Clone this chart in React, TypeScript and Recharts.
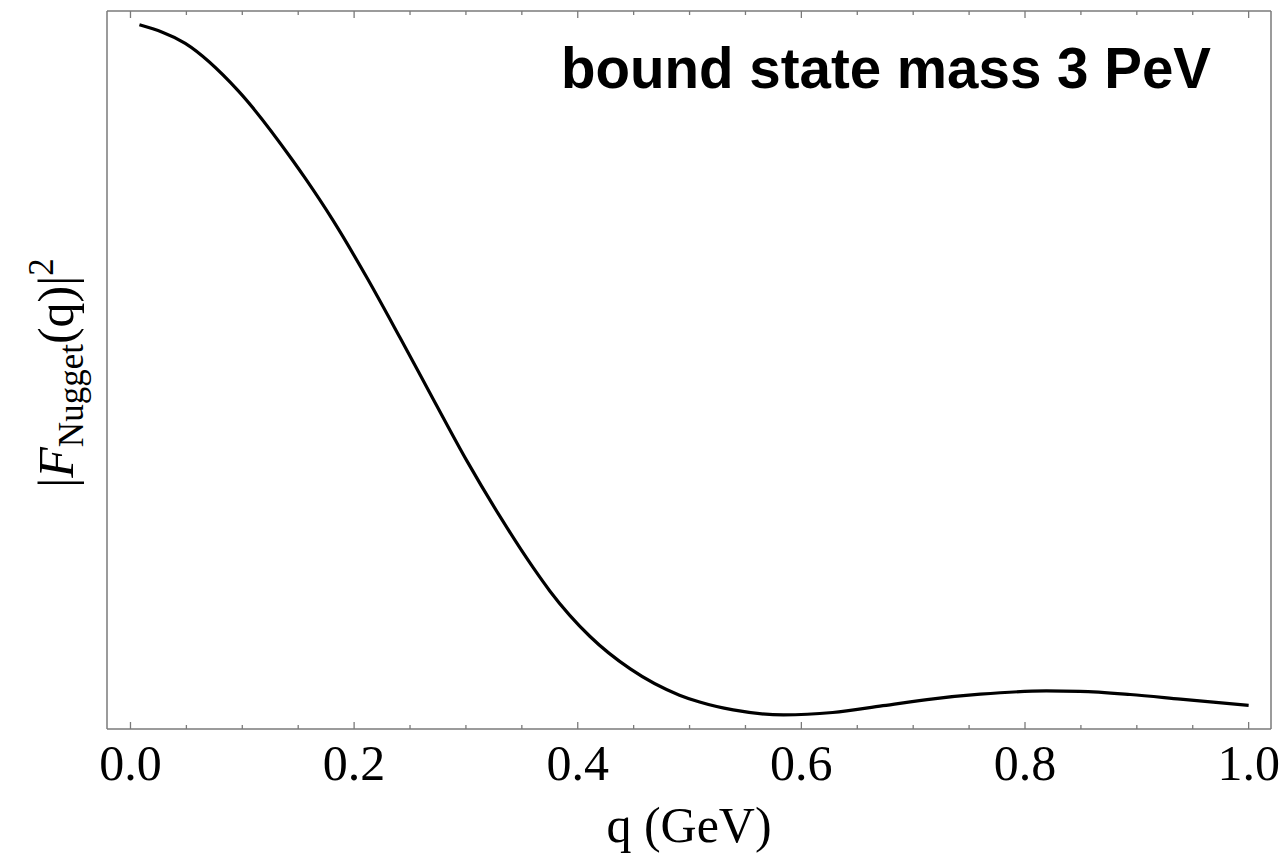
import { LineChart, Line, XAxis, YAxis } from 'recharts';

// momentum transfer q (GeV)
const qValues = [
  0.008, 0.049, 0.096, 0.144, 0.157, 0.181, 0.211, 0.241, 0.271, 0.301,
  0.330, 0.360, 0.375, 0.411, 0.447, 0.491, 0.509, 0.539, 0.584, 0.628,
  0.673, 0.718, 0.760, 0.819, 0.849, 0.894, 0.939, 1.0,
];

// |F_Nugget(q)|^2, normalised to 1 at the start of the curve
const formFactor = [
  1.0, 0.973, 0.905, 0.806, 0.776, 0.717, 0.635, 0.547, 0.457, 0.368,
  0.289, 0.214, 0.180, 0.114, 0.067, 0.029, 0.019, 0.0076, 0.0004, 0.0039,
  0.0138, 0.0237, 0.0304, 0.0351, 0.0345, 0.030, 0.0233, 0.0141,
];

const xTicks = [
  0, 0.05, 0.1, 0.15, 0.2, 0.25, 0.3, 0.35, 0.4, 0.45, 0.5,
  0.55, 0.6, 0.65, 0.7, 0.75, 0.8, 0.85, 0.9, 0.95, 1.0,
];

const data = qValues.map((q, i) => ({ q, f: formFactor[i] }));

const FRAME = '#7a7a7a';
const SERIF = '"Liberation Serif", "Times New Roman", serif';

const isMajor = (v: number) => Math.abs(v * 5 - Math.round(v * 5)) < 1e-6;

const BottomTick = ({ x, y, payload }: any) => {
  const major = isMajor(payload.value);
  return (
    <g>
      <line x1={x} x2={x} y1={y} y2={y - (major ? 7 : 4)} stroke={FRAME} strokeWidth={1.3} />
      {major && (
        <text x={x} y={y + 51} textAnchor="middle" fontFamily={SERIF} fontSize={50} fill="#000">
          {payload.value.toFixed(1)}
        </text>
      )}
    </g>
  );
};

const TopTick = ({ x, y, payload }: any) => {
  const major = isMajor(payload.value);
  return <line x1={x} x2={x} y1={y} y2={y + (major ? 7 : 4)} stroke={FRAME} strokeWidth={1.3} />;
};

export default function App() {
  return (
    <div style={{ position: 'absolute', left: 0, top: 0, background: '#fff' }}>
      <LineChart width={1283} height={859} data={data} margin={{ top: 10, right: 11, bottom: 129, left: 106 }}>
        <XAxis
          dataKey="q"
          type="number"
          domain={[-0.021, 1.02]}
          ticks={xTicks}
          tick={<BottomTick />}
          tickLine={false}
          tickSize={0}
          tickMargin={0}
          height={1}
          axisLine={{ stroke: FRAME, strokeWidth: 1.5 }}
          interval={0}
        />
        <XAxis
          xAxisId="top"
          orientation="top"
          dataKey="q"
          type="number"
          domain={[-0.021, 1.02]}
          ticks={xTicks}
          tick={<TopTick />}
          tickLine={false}
          tickSize={0}
          tickMargin={0}
          height={1}
          axisLine={{ stroke: FRAME, strokeWidth: 1.5 }}
          interval={0}
        />
        <YAxis
          type="number"
          domain={[-0.02, 1.02]}
          width={1}
          tick={false}
          tickLine={false}
          axisLine={{ stroke: FRAME, strokeWidth: 1.5 }}
        />
        <YAxis
          yAxisId="right"
          orientation="right"
          type="number"
          domain={[-0.02, 1.02]}
          width={1}
          tick={false}
          tickLine={false}
          axisLine={{ stroke: FRAME, strokeWidth: 1.5 }}
        />
        <Line
          type="monotone"
          dataKey="f"
          stroke="#000"
          strokeWidth={3.2}
          dot={false}
          activeDot={false}
          isAnimationActive={false}
        />
        <text
          x={1211}
          y={88}
          textAnchor="end"
          fontFamily='"Liberation Sans", Arial, sans-serif'
          fontWeight="bold"
          fontSize={56.5}
          fill="#000"
        >
          bound state mass 3 PeV
        </text>
        <text x={689} y={842} textAnchor="middle" fontFamily={SERIF} fontSize={50} fill="#000">
          q (GeV)
        </text>
        <text
          x={0}
          y={0}
          transform="translate(73, 373) rotate(-90)"
          textAnchor="middle"
          fontFamily={SERIF}
          fontSize={50}
          fill="#000"
        >
          <tspan>|</tspan>
          <tspan fontStyle="italic">F</tspan>
          <tspan fontSize={35} dy={10}>Nugget</tspan>
          <tspan dy={-10}>(q)|</tspan>
          <tspan fontSize={35} dy={-20}>2</tspan>
        </text>
      </LineChart>
    </div>
  );
}
